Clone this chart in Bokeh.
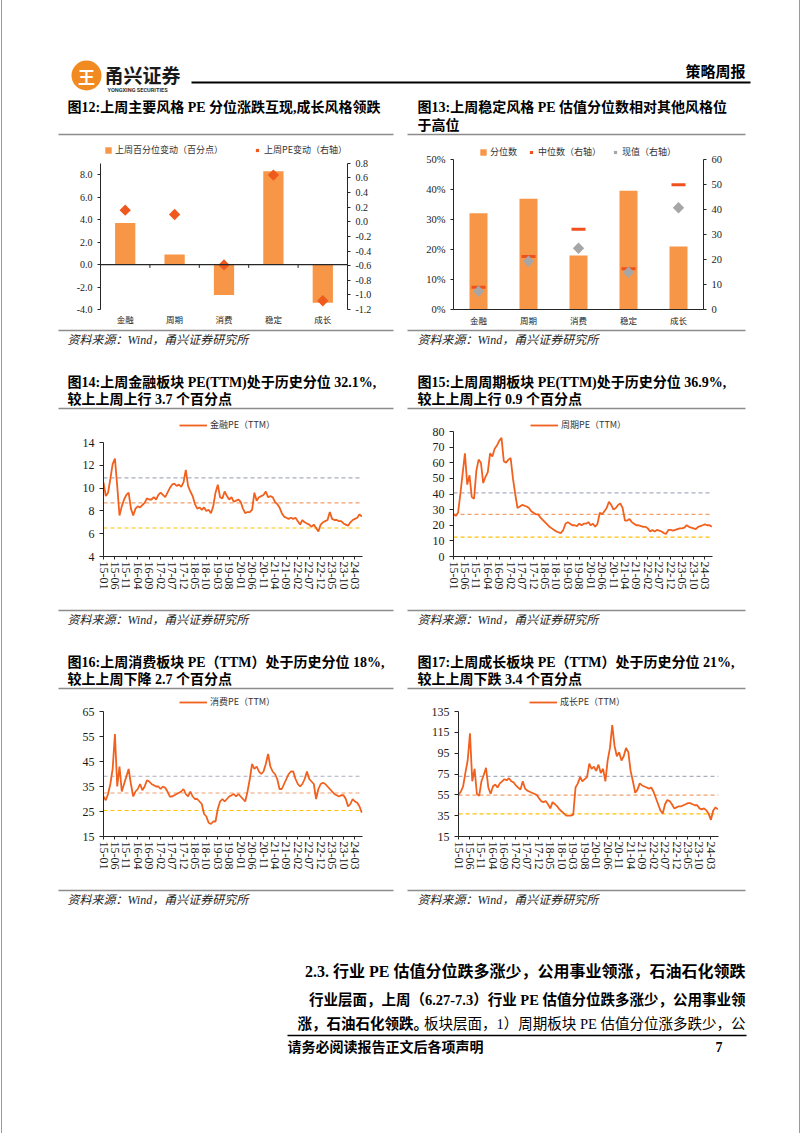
import numpy as np
import pandas as pd
from bokeh.plotting import figure
from bokeh.models import (Range1d, FactorRange, LinearAxis, FixedTicker,
                          PrintfTickFormatter, Span, Legend, LegendItem)
from bokeh.layouts import column, row
from bokeh.core.properties import value
from bokeh.embed import file_html
from bokeh.resources import INLINE

# ---------------- data ----------------
styles = ["金融", "周期", "消费", "稳定", "成长"]
pct_change = [3.7, 0.9, -2.7, 8.3, -3.4]          # 上周百分位变动（百分点）
pe_change = [0.16, 0.10, -0.59, 0.64, -1.08]      # 上周PE变动（右轴）
pct_rank = [32.1, 36.9, 18.0, 39.6, 21.0]         # 分位数 (%)
pe_median = [8.9, 21.2, 32.1, 16.3, 49.9]         # 中位数（右轴）
pe_now = [7.3, 19.3, 24.5, 14.9, 40.7]            # 现值（右轴）

left12_ticks = [-4, -2, 0, 2, 4, 6, 8]
right12_ticks = [-1.2, -1.0, -0.8, -0.6, -0.4, -0.2, 0.0, 0.2, 0.4, 0.6, 0.8]
left13_ticks = [0, 10, 20, 30, 40, 50]
right13_ticks = [0, 10, 20, 30, 40, 50, 60]

series_start = "2015-01"   # monthly observations

fin_pe = [10.5, 9.3, 9.6, 10.8, 12.1, 12.6, 10.2, 7.6, 8.4, 9.0,
          9.4, 9.6, 8.2, 7.6, 8.2, 8.4, 8.3, 8.5, 8.7, 9.1,
          9.0, 9.0, 9.2, 9.0, 9.4, 9.6, 9.4, 9.2, 9.6, 10.0,
          10.3, 10.4, 10.2, 10.3, 10.1, 10.5, 11.6, 10.2, 9.7, 9.3,
          8.6, 8.2, 8.3, 8.1, 8.3, 8.0, 8.1, 7.8, 8.4, 9.6,
          10.3, 9.2, 9.1, 9.7, 9.3, 9.0, 9.2, 8.8, 8.9, 9.0,
          8.8, 8.2, 7.8, 7.9, 7.9, 8.1, 9.6, 8.9, 9.2, 9.3,
          9.4, 9.7, 9.2, 9.3, 9.2, 8.8, 8.6, 8.3, 7.8, 7.5,
          7.4, 7.3, 7.4, 7.3, 7.4, 7.1, 6.8, 7.2, 7.0, 6.9,
          6.8, 6.6, 6.8, 6.5, 6.2, 6.8, 7.0, 7.1, 7.2, 7.9,
          7.3, 7.2, 7.2, 7.1, 7.1, 6.9, 6.8, 6.7, 7.0, 7.2,
          7.3, 7.4, 7.7, 7.5]

cyc_pe = [27, 26, 28, 40, 53, 66, 46, 52, 38, 37,
          55, 62, 60, 47, 51, 54, 66, 64, 69, 71,
          74, 76, 61, 60, 62, 63, 50, 40, 31, 32,
          33, 32.5, 32, 31, 29, 28, 27, 27, 25, 23.5,
          22, 20.5, 19, 18, 17, 16, 15.5, 15, 17, 21,
          22, 21, 20, 20, 19.5, 21, 20, 21, 21, 22,
          20, 21, 19, 21, 28, 27, 29, 31, 35, 33,
          30, 31, 33, 34, 31, 23, 23, 24, 22, 21,
          20, 20, 19.5, 19, 19, 18, 16, 17, 16, 17,
          16.5, 16, 15, 14.5, 17, 17, 16.5, 17, 17.5, 18,
          18, 18.5, 20, 19, 18.5, 18, 17.5, 19, 19.5, 20,
          20.5, 20, 20, 19]

con_pe = [31, 29.5, 32, 36, 42, 56, 35, 43, 33, 36,
          39, 42, 36, 31, 33, 34, 36, 33.5, 35, 37.5,
          37, 36, 35.5, 35, 35, 34, 35, 34.5, 33, 31,
          31, 31.5, 32, 32.5, 33, 34, 32, 31, 33, 31,
          30, 30, 29, 28, 24, 23, 20.5, 20, 21, 21,
          26, 29, 30, 29, 30, 31, 31.5, 32, 31, 32,
          31, 30, 29, 33, 38, 44, 42, 43, 41, 40,
          41, 44, 48, 43, 41, 40, 38, 34, 34, 36,
          38, 40, 41, 41, 38, 36, 35, 36, 38, 41,
          38, 37, 36, 30, 34, 36, 36.5, 36, 35, 34,
          33, 32, 31.5, 31, 31.5, 31.5, 30, 27, 28, 30,
          29, 28.5, 27, 24.5]

gro_pe = [55, 58, 63, 76, 88, 114, 68, 80, 56, 54,
          68, 74, 81, 62, 56, 63, 65, 62, 66, 68,
          70, 69, 71, 68, 67, 64, 62, 60, 68, 61,
          59, 58, 57, 56, 55, 52, 49, 48, 49, 46,
          42, 48, 46, 44, 41, 39, 37, 35, 35, 35,
          36, 62, 66, 72, 68, 70, 72, 85, 80, 82,
          78, 84, 76, 80, 68, 88, 100, 122, 102, 92,
          96, 88, 92, 100, 96, 78, 68, 57, 60, 66,
          64, 63, 62, 61, 62, 58, 52, 46, 40, 37,
          46, 50, 49, 46, 42, 43, 44, 44, 45, 46,
          47, 47, 46, 45, 45, 42, 41, 42, 40, 37,
          31, 40, 43, 41]

# reference levels (grey / orange / yellow dashed)
fin_refs = [10.9, 8.7, 6.5]
cyc_refs = [40.7, 26.9, 12.4]
con_refs = [39.1, 32.4, 25.4]
gro_refs = [72.7, 54.8, 36.8]

x_tick_labels = ["15-01", "15-06", "15-11", "16-04", "16-09", "17-02", "17-07",
                 "17-12", "18-05", "18-10", "19-03", "19-08", "20-01", "20-06",
                 "20-11", "21-04", "21-09", "22-02", "22-07", "22-12", "23-05",
                 "23-10", "24-03"]

# ---------------- styles ----------------
SERIF = "'Liberation Serif', 'Noto Sans CJK SC'"
CJK = "'Noto Sans CJK SC'"
AX = "#262626"
BAR = "#F79646"
DIA = "#EE5A1E"
LINE = "#F2601E"
REF_COLORS = ["#A9AEBF", "#F2A06A", "#FFC000"]
SEP = "#8C8C8C"


def month_index(period_idx):
    return (period_idx.year - 2015) * 12 + period_idx.month - 1


def label_index(s):
    return (2000 + int(s[:2]) - 2015) * 12 + int(s[3:]) - 1


x_tick_pos = [label_index(s) for s in x_tick_labels]


def headroom_end(lo, hi, axis_top_px, frame_top_px, bottom_px):
    """extend a range upward so that the axis stops axis_top_px below the frame top"""
    return hi + (axis_top_px - frame_top_px) * (hi - lo) / (bottom_px - axis_top_px)


def strip(h):
    p = figure(width=802, height=h, x_range=Range1d(0, 802), y_range=Range1d(h, 0),
               x_axis_type=None, y_axis_type=None, toolbar_location=None,
               output_backend="svg", min_border=0)
    p.outline_line_color = None
    p.background_fill_color = "white"
    p.border_fill_color = "white"
    return p


def T(p, x, y, s, size, style="normal", align="left", font=SERIF, color="#000000"):
    p.text(x=[x], y=[y], text=[s], text_font=value(font), text_font_size=f"{size}px",
           text_font_style=style, text_align=align, text_baseline="middle",
           text_color=color)


def hline(p, x0, x1, y, color=SEP, width=1.5):
    p.segment(x0=[x0], y0=[y], x1=[x1], y1=[y], line_color=color, line_width=width)


def style_axis(ax, size, font=SERIF, tick_out=3):
    ax.axis_line_color = AX
    ax.major_tick_line_color = AX
    ax.minor_tick_line_color = None
    ax.minor_tick_out = 0
    ax.minor_tick_in = 0
    ax.major_tick_in = 0
    ax.major_tick_out = tick_out
    ax.major_label_text_font = font
    ax.major_label_text_font_size = f"{size}px"
    ax.major_label_text_color = "#1a1a1a"


def base_fig(width, height, x_range, y_range, left, right, top, bottom):
    p = figure(width=width, height=height, x_range=x_range, y_range=y_range,
               toolbar_location=None, output_backend="svg",
               min_border_left=left, min_border_right=right,
               min_border_top=top, min_border_bottom=bottom)
    p.xgrid.visible = False
    p.ygrid.visible = False
    p.outline_line_color = None
    p.background_fill_color = "white"
    p.border_fill_color = "white"
    return p


def add_legend(p, items, loc, spacing=10, glyph_w=8):
    lg = Legend(items=items, orientation="horizontal", location=loc,
                label_text_font=CJK, label_text_font_size="9px",
                label_text_color="#333333", glyph_width=glyph_w, glyph_height=8,
                label_height=10, label_standoff=3, spacing=spacing, padding=0,
                margin=0, border_line_color=None, background_fill_alpha=0)
    p.add_layout(lg, "center")


# ---------------- header strip (0-136) ----------------
sA = strip(136)
sA.scatter(x=[86], y=[75], size=30, fill_color="#F28A22", line_color=None)
T(sA, 86, 76, "王", 17, "bold", "center", CJK, "white")
T(sA, 104, 74, "甬兴证券", 19, "bold", "left", CJK, "#1a1a1a")
T(sA, 107, 89, "YONGXING SECURITIES", 5.6, "bold", "left", "Roboto", "#333333")
T(sA, 745, 70, "策略周报", 15, "bold", "right", CJK)
hline(sA, 191, 750, 82, "#000000", 2)
T(sA, 67, 107, "图12:上周主要风格 PE 分位涨跌互现,成长风格领跌", 14, "bold")
T(sA, 417, 107, "图13:上周稳定风格  PE  估值分位数相对其他风格位", 14, "bold")
T(sA, 417, 125, "于高位", 14, "bold")
hline(sA, 58, 393, 134)
hline(sA, 407, 745, 134)

# ---------------- chart 12 (band 136-328) ----------------
y12_end = headroom_end(-4, 9, 163, 141, 310)
r12_end = headroom_end(-1.2, 0.8, 163, 141, 310)
f12 = base_fig(400, 192, FactorRange(factors=styles), Range1d(-4, y12_end), 100, 53, 5, 18)
f12.extra_y_ranges = {"r": Range1d(-1.2, r12_end)}
b12 = f12.vbar(x=styles, top=pct_change, width=0.41, fill_color=BAR, line_color=None)
f12.add_layout(Span(location=0, dimension="width", line_color=AX, line_width=1.2))
bnd = np.arange(1, len(styles))
f12.segment(x0=bnd, y0=0, x1=bnd, y1=-0.3, line_color=AX, line_width=1)
d12 = f12.scatter(x=styles, y=pe_change, marker="square", angle=np.pi / 4, size=8,
                  fill_color=DIA, line_color=None, y_range_name="r")
f12.yaxis.ticker = FixedTicker(ticks=left12_ticks)
f12.yaxis.formatter = PrintfTickFormatter(format="%.1f")
f12.yaxis.bounds = (-4, 9)
style_axis(f12.yaxis[0], 10)
r12 = LinearAxis(y_range_name="r", ticker=FixedTicker(ticks=right12_ticks),
                 formatter=PrintfTickFormatter(format="%.1f"), bounds=(-1.2, 0.8))
style_axis(r12, 10)
f12.add_layout(r12, "right")
style_axis(f12.xaxis[0], 8.5, CJK, tick_out=0)
f12.xaxis.axis_line_color = None
f12.xaxis.major_tick_line_color = None
f12.xaxis.major_label_standoff = 3
add_legend(f12, [LegendItem(label="上周百分位变动（百分点）", renderers=[b12]),
                 LegendItem(label="上周PE变动（右轴）", renderers=[d12])], (4, 153), spacing=30)

# ---------------- chart 13 ----------------
y13_end = headroom_end(0, 50, 159, 141, 309)
r13_end = headroom_end(0, 60, 159, 141, 309)
f13 = base_fig(402, 192, FactorRange(factors=styles), Range1d(0, y13_end), 53, 99, 5, 19)
f13.extra_y_ranges = {"r": Range1d(0, r13_end)}
b13 = f13.vbar(x=styles, top=pct_rank, width=0.36, fill_color=BAR, line_color=None)
m13 = f13.scatter(x=styles, y=pe_median, marker="dash", size=14, line_width=3,
                  line_color="#F0501E", y_range_name="r")
n13 = f13.scatter(x=styles, y=pe_now, marker="square", angle=np.pi / 4, size=8,
                  fill_color="#A6A6A6", line_color=None, y_range_name="r")
f13.yaxis.ticker = FixedTicker(ticks=left13_ticks)
f13.yaxis.formatter = PrintfTickFormatter(format="%d%%")
f13.yaxis.bounds = (0, 50)
style_axis(f13.yaxis[0], 10.5)
r13 = LinearAxis(y_range_name="r", ticker=FixedTicker(ticks=right13_ticks), bounds=(0, 60))
style_axis(r13, 10.5)
f13.add_layout(r13, "right")
style_axis(f13.xaxis[0], 8.5, CJK, tick_out=0)
f13.xaxis.major_tick_line_color = None
f13.xaxis.major_label_standoff = 4
add_legend(f13, [LegendItem(label="分位数", renderers=[b13]),
                 LegendItem(label="中位数（右轴）", renderers=[m13]),
                 LegendItem(label="现值（右轴）", renderers=[n13])], (26, 151), spacing=10)


# ---------------- time series charts ----------------
def ts_fig(vals, refs, label, yr, yticks, width, left, right, band_top, band_bottom,
           axis_top, lloc):
    frame_top = band_top + 5
    frame_bottom = 556 if band_top < 500 else 836
    height = band_bottom - band_top
    months = pd.period_range(series_start, periods=len(vals), freq="M")
    mx = month_index(months)
    y_end = headroom_end(yr[0], yr[1], axis_top, frame_top, frame_bottom)
    p = base_fig(width, height, Range1d(0, 113.3), Range1d(yr[0], y_end),
                 left, right, 5, band_bottom - frame_bottom)
    for v, c in zip(refs, REF_COLORS):
        p.add_layout(Span(location=v, dimension="width", line_color=c,
                          line_dash="4 3", line_width=1.2, level="underlay"))
    ln = p.line(x=list(mx), y=vals, line_color=LINE, line_width=1.8)
    p.xaxis.ticker = FixedTicker(ticks=x_tick_pos)
    p.xaxis.major_label_overrides = {pos: lab for pos, lab in zip(x_tick_pos, x_tick_labels)}
    p.xaxis.major_label_orientation = "vertical"
    style_axis(p.xaxis[0], 12, "'Liberation Serif'", tick_out=3)
    p.xaxis.major_label_standoff = 2
    p.yaxis.ticker = FixedTicker(ticks=yticks)
    p.yaxis.bounds = yr
    style_axis(p.yaxis[0], 12, "'Liberation Serif'", tick_out=4)
    add_legend(p, [LegendItem(label=label, renderers=[ln])], lloc, glyph_w=28)
    return p


f14 = ts_fig(fin_pe, fin_refs, "金融PE（TTM）", (4, 14), [4, 6, 8, 10, 12, 14],
             400, 103, 38, 411, 608, 442, (76, 125))
f15 = ts_fig(cyc_pe, cyc_refs, "周期PE（TTM）", (0, 80), [0, 10, 20, 30, 40, 50, 60, 70, 80],
             402, 53, 90, 411, 608, 431, (77, 125))
f16 = ts_fig(con_pe, con_refs, "消费PE（TTM）", (15, 65), [15, 25, 35, 45, 55, 65],
             400, 103, 38, 690, 888, 711, (76, 128))
f17 = ts_fig(gro_pe, gro_refs, "成长PE（TTM）", (15, 135), [15, 35, 55, 75, 95, 115, 135],
             402, 58, 84, 690, 888, 711, (71, 128))

SRC = "资料来源：Wind，甬兴证券研究所"

# ---------------- strip S1 (328-411) ----------------
s1 = strip(83)
hline(s1, 58, 393, 2)
hline(s1, 407, 745, 2)
T(s1, 67, 11, SRC, 12, "italic", color="#262626")
T(s1, 417, 11, SRC, 12, "italic", color="#262626")
T(s1, 67, 54, "图14:上周金融板块 PE(TTM)处于历史分位 32.1%,", 14, "bold")
T(s1, 67, 71, "较上上周上行 3.7 个百分点", 14, "bold")
T(s1, 417, 54, "图15:上周周期板块 PE(TTM)处于历史分位 36.9%,", 14, "bold")
T(s1, 417, 71, "较上上周上行 0.9 个百分点", 14, "bold")
hline(s1, 58, 393, 80)
hline(s1, 407, 745, 80)

# ---------------- strip S2 (608-690) ----------------
s2 = strip(82)
hline(s2, 58, 393, 2)
hline(s2, 407, 745, 2)
T(s2, 67, 11, SRC, 12, "italic", color="#262626")
T(s2, 417, 11, SRC, 12, "italic", color="#262626")
T(s2, 67, 54, "图16:上周消费板块 PE（TTM）处于历史分位 18%,", 14, "bold")
T(s2, 67, 71, "较上上周下降 2.7 个百分点", 14, "bold")
T(s2, 417, 54, "图17:上周成长板块 PE（TTM）处于历史分位 21%,", 14, "bold")
T(s2, 417, 71, "较上上周下跌 3.4 个百分点", 14, "bold")
hline(s2, 58, 393, 80)
hline(s2, 407, 745, 80)

# ---------------- strip S3 (888-1133) ----------------
s3 = strip(245)
hline(s3, 58, 393, 2)
hline(s3, 407, 745, 2)
T(s3, 67, 11, SRC, 12, "italic", color="#262626")
T(s3, 417, 11, SRC, 12, "italic", color="#262626")
T(s3, 745, 83, "2.3. 行业 PE 估值分位跌多涨少，公用事业领涨，石油石化领跌", 16, "bold", "right")
T(s3, 745, 111, "行业层面，上周（6.27-7.3）行业 PE 估值分位跌多涨少，公用事业领", 14.5, "bold", "right")
T(s3, 297, 135, "涨，石油石化领跌。", 14.5, "bold")
T(s3, 745, 135, "板块层面，1）周期板块 PE 估值分位涨多跌少，公", 14.5, "normal", "right")
hline(s3, 287, 746, 147, "#000000", 1.3)
T(s3, 287, 159, "请务必阅读报告正文后各项声明", 14, "bold")
T(s3, 722, 158, "7", 14, "bold", "right")

page = column(sA, row(f12, f13), s1, row(f14, f15), s2, row(f16, f17), s3)

PAGE_CSS = ("<style>html,body{margin:0;padding:0;}"
            "body::before,body::after{content:'';position:fixed;top:0;bottom:0;width:1px;"
            "background:#9a9a9a;z-index:10;pointer-events:none;}"
            "body::before{left:1px;}body::after{left:799px;}</style>")
html = file_html(page, INLINE)
html = html.replace("<head>", "<head>" + PAGE_CSS, 1)
open("out.html", "w").write(html)
